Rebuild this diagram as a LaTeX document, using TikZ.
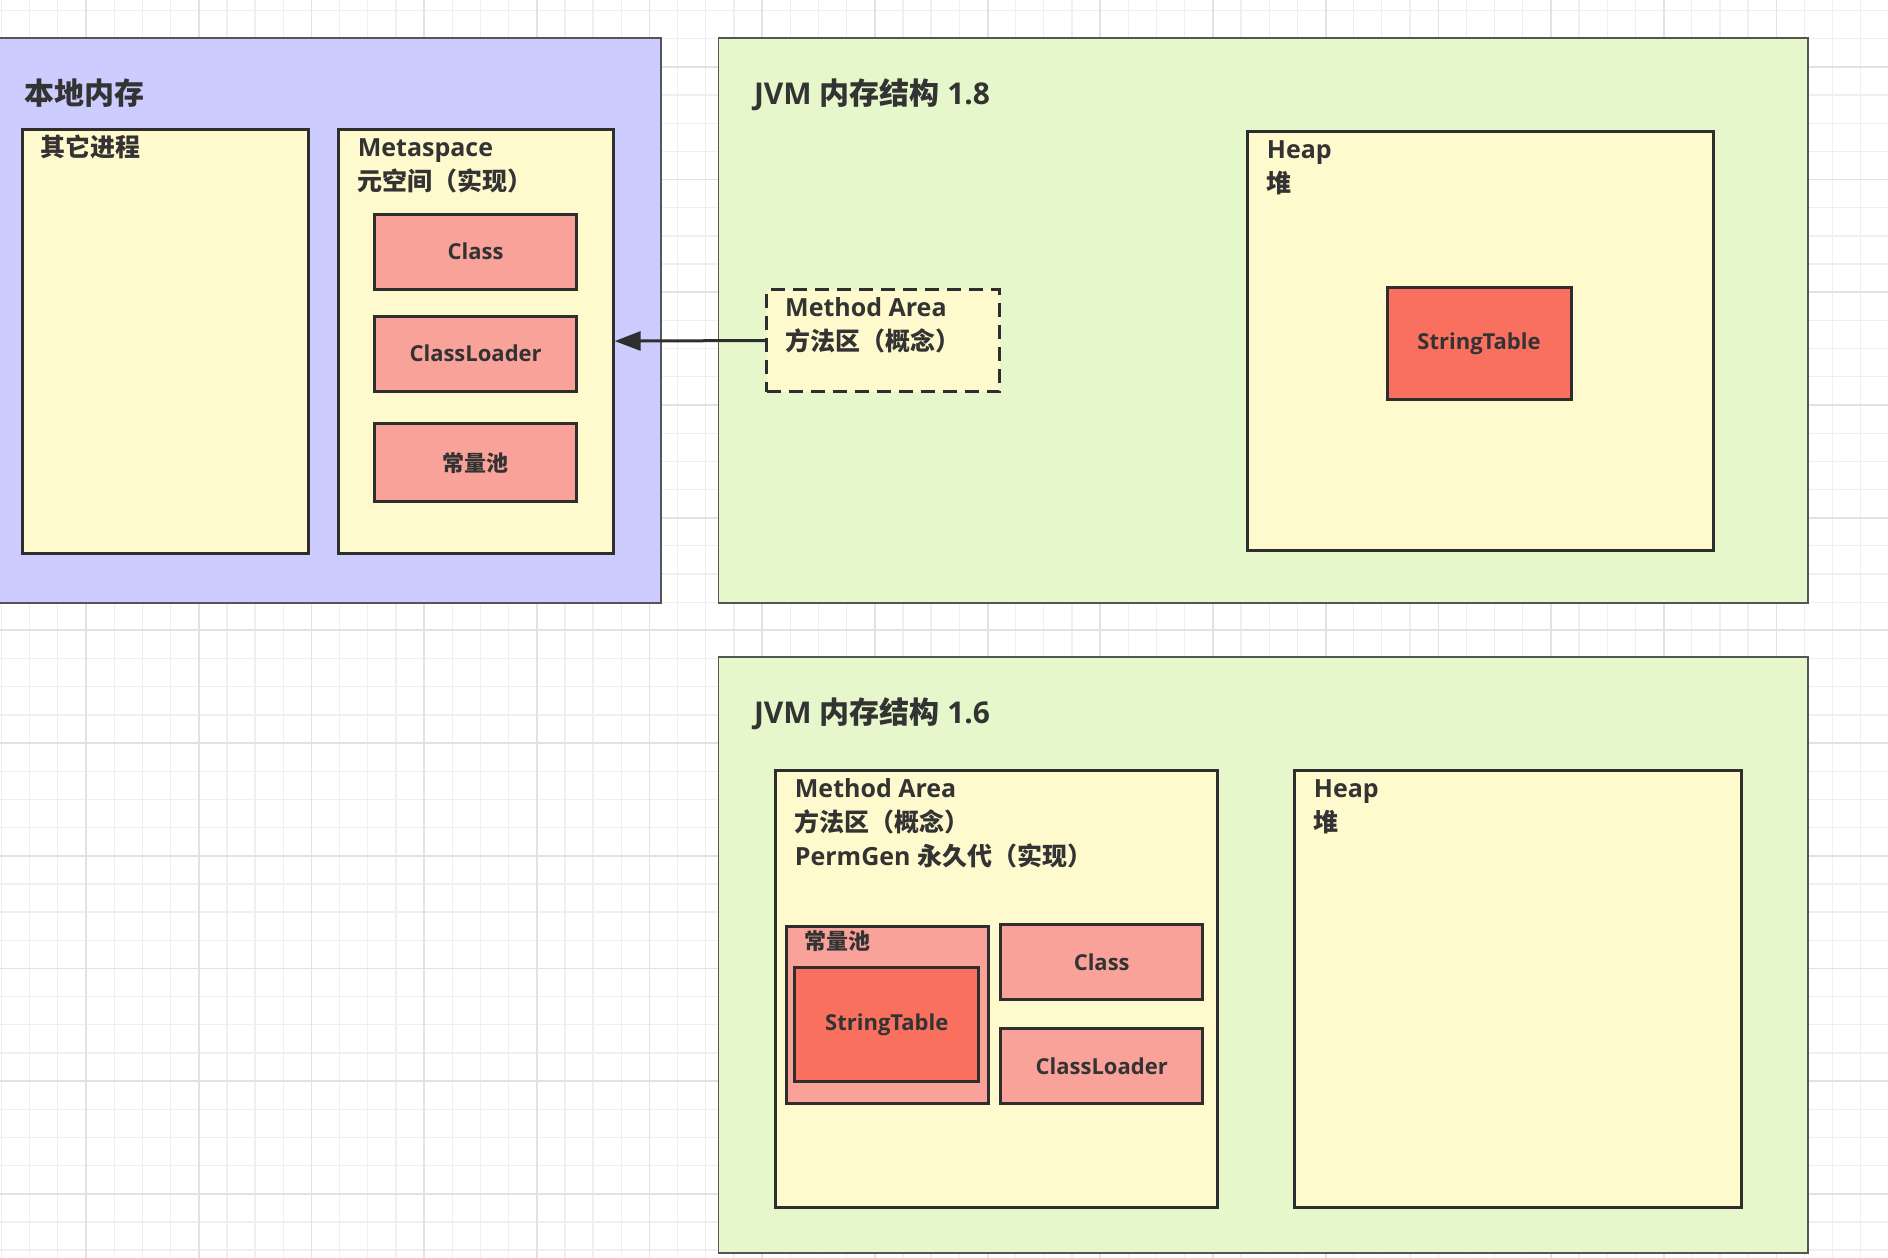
\documentclass[tikz,border=0pt]{standalone}
\usepackage{fontspec}
\setmainfont{Open Sans}
\newfontfamily\cjk{Noto Sans CJK SC}
\usetikzlibrary{positioning,arrows.meta}

\definecolor{nativebg}{HTML}{CCCCFF}
\definecolor{jvmbg}{HTML}{E6F8CB}
\definecolor{areabg}{HTML}{FFFACD}
\definecolor{itembg}{HTML}{F9A29A}
\definecolor{hotbg}{HTML}{F9705F}
\definecolor{frame}{HTML}{555555}
\definecolor{ink}{HTML}{2E2E2E}
\definecolor{txt}{HTML}{333333}
\definecolor{gridfine}{HTML}{EFEFEF}
\definecolor{gridbold}{HTML}{E2E2E2}

\newcommand\zh[1]{{\cjk #1}}
\newcommand\titlefont{\fontsize{30}{34}\selectfont\bfseries}
\newcommand\labfont{\fontsize{25}{34}\selectfont\bfseries}
\newcommand\tagfont{\fontsize{22}{26}\selectfont\bfseries}

\begin{document}
\begin{tikzpicture}
            [
                x=1pt, y=-1pt,
                container/.style={draw=frame, line width=1.5pt, anchor=north west, inner sep=0pt},
                area/.style={draw=ink, fill=areabg, line width=3pt, anchor=north west, inner sep=0pt},
                item/.style={draw=ink, fill=itembg, line width=3pt, minimum width=202pt, minimum height=75pt, inner sep=0pt, font=\tagfont, text=txt},
                hot/.style={item, fill=hotbg},
                caption/.style={anchor=base west, inner sep=0pt, align=left, text=txt, font=\labfont},
                headline/.style={caption, font=\titlefont},
                link/.style={draw=ink, line width=3pt, -{Triangle[length=26pt,width=19pt]}},
            ]
            \useasboundingbox (0,0) rectangle (1888,1258);
            \fill[white] (0,0) rectangle (1888,1258);
            %grid
            \foreach \i in {0,...,67} \draw[gridfine, line width=1.3pt] ({1.5+\i*28.17},0) -- ++(0,1258);
            \foreach \j in {0,...,44} \draw[gridfine, line width=1.3pt] (0,{10.6+\j*28.17}) -- ++(1888,0);
            \foreach \i in {0,...,16} \draw[gridbold, line width=1.8pt] ({86+\i*112.7},0) -- ++(0,1258);
            \foreach \j in {0,...,11} \draw[gridbold, line width=1.8pt] (0,{66.8+\j*112.7}) -- ++(1888,0);

            %native memory
            \node[container, fill=nativebg, minimum width=662pt, minimum height=565pt] (native) at (-2,37.3) {};
            \node[headline] (nativet) at (24,104.5) {\zh{本地内存}};
            \node[area, minimum width=286.5pt, minimum height=424pt] (other) at (20.5,127.6) {};
            \node[caption] (othert) at (40,156) {\zh{其它进程}};
            \node[area, minimum width=274.7pt, minimum height=424pt] (meta) at (337,127.6) {};
            %base = last line
            \node[caption] (metat) at (357.6,190) {Metaspace\\\zh{元空间（实现）}};
            \node[item] (cls8) at (475.6,251.7) {Class};
            \node[item] (loader8) [below=24pt of cls8] {ClassLoader};
            \node[item, minimum height=78pt] (pool8) [below=29.5pt of loader8] {\zh{常量池}};

            %jvm 1.8
            \node[container, fill=jvmbg, minimum width=1089.7pt, minimum height=564.7pt] (jvm8) at (717.6,37.3) {};
            \node[headline] (jvm8t) at (753.8,104.5) {JVM \zh{内存结构} 1.8};
            \node[area, dashed, dash pattern=on 14pt off 8pt, minimum width=233pt, minimum height=102pt] (ma8) at (765,288) {};
            \node[caption] (ma8t) at (785,350) {Method Area\\\zh{方法区（概念）}};
            \node[area, minimum width=466pt, minimum height=419pt] (heap8) at (1246,130) {};
            \node[caption] (heap8t) at (1266.7,192) {Heap\\\zh{堆}};
            \node[hot, minimum width=184pt, minimum height=112pt] (st8) at (1479,343.8) {StringTable};
            \draw[link] (ma8.west) -- (meta.east);

            %jvm 1.6
            \node[container, fill=jvmbg, minimum width=1089.7pt, minimum height=596pt] (jvm6) at (717.6,656) {};
            \node[headline] (jvm6t) at (753.8,723.5) {JVM \zh{内存结构} 1.6};
            \node[area, minimum width=442pt, minimum height=437pt] (ma6) at (774,769.4) {};
            \node[caption] (ma6t) at (794.7,865.7) {Method Area\\\zh{方法区（概念）}\\PermGen \zh{永久代（实现）}};
            \node[area, minimum width=447pt, minimum height=437pt] (heap6) at (1293,769.4) {};
            \node[caption] (heap6t) at (1313.7,831.7) {Heap\\\zh{堆}};
            \node[area, fill=itembg, minimum width=202.4pt, minimum height=177.1pt] (pool6) at (785,924.7) {};
            \node[caption, font=\tagfont] (pool6t) at (804,949.5) {\zh{常量池}};
            \node[hot, minimum width=184.3pt, minimum height=113.3pt] (st6) at (886.8,1024.6) {StringTable};
            \node[item] (cls6) at (1101.7,962) {Class};
            \node[item] (loader6) [below=26pt of cls6] {ClassLoader};
        \end{tikzpicture}
\end{document}
